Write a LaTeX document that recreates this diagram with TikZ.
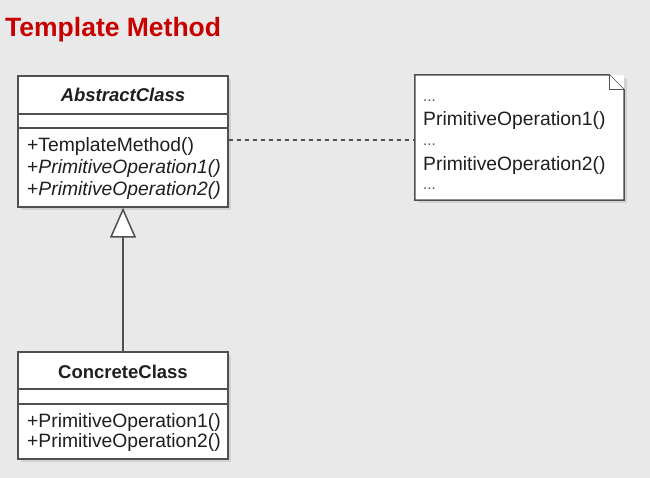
\documentclass[tikz,border=0pt]{standalone}
\usepackage{fontspec}
\setmainfont{Liberation Sans}
\usetikzlibrary{arrows.meta,calc}
\definecolor{bg}{HTML}{E9E9E9}
\definecolor{edge}{HTML}{505050}
\definecolor{titlered}{HTML}{C80000}
\definecolor{shadow}{HTML}{D2D2D2}
\tikzset{
  x=1pt, y=-1pt,
  classbox/.style={rectangle, draw=edge, line width=1.5pt, fill=white, inner sep=0pt},
  shadowbox/.style={rectangle, fill=shadow, draw=none, inner sep=0pt},
  txt/.style={anchor=base west, inner sep=0pt, font=\fontsize{19.3}{22}\selectfont, text=black!88},
  dots/.style={anchor=base west, inner sep=0pt, font=\fontsize{15}{18}\selectfont, text=black!70},
  cname/.style={anchor=base, inner sep=0pt, font=\fontsize{18.5}{22}\selectfont\bfseries, text=black!88},
  sep/.style={draw=edge, line width=1.5pt},
  inh/.style={draw=edge, line width=1.5pt, -{Triangle[open, width=26pt, length=30pt, fill=white]}},
  assoc/.style={draw=edge, line width=1.8pt, dash pattern=on 4pt off 4pt}
}
\begin{document}
\begin{tikzpicture}
\fill[bg] (0,0) rectangle (650,478);
\useasboundingbox (0,0) rectangle (650,478);

% title
\node[anchor=base west, inner sep=0pt, text=titlered, font=\fontsize{26.5}{30}\selectfont\bfseries] (title) at (5,37) {Template Method};

% AbstractClass
\node[shadowbox, minimum width=210pt, minimum height=131pt] (absshadow) at (126,144.5) {};
\node[classbox, minimum width=210pt, minimum height=131pt] (abs) at (123,141.5) {};
\draw[sep] (abs.west |- 0,114) -- (abs.east |- 0,114);
\draw[sep] (abs.west |- 0,128) -- (abs.east |- 0,128);
\node[cname, font=\fontsize{18.5}{22}\selectfont\bfseries\itshape] (absname) at (123,102) {AbstractClass};
\node[txt] (absop0) at (27,152) {+TemplateMethod()};
\node[txt] (absop1) at (27,174) {+\textit{PrimitiveOperation1()}};
\node[txt] (absop2) at (27,196) {+\textit{PrimitiveOperation2()}};

% ConcreteClass
\node[shadowbox, minimum width=210pt, minimum height=107pt] (concshadow) at (126,408.5) {};
\node[classbox, minimum width=210pt, minimum height=107pt] (conc) at (123,405.5) {};
\draw[sep] (conc.west |- 0,389) -- (conc.east |- 0,389);
\draw[sep] (conc.west |- 0,404) -- (conc.east |- 0,404);
\node[cname] (concname) at (123,378) {ConcreteClass};
\node[txt] (concop1) at (27,427) {+PrimitiveOperation1()};
\node[txt] (concop2) at (27,447) {+PrimitiveOperation2()};

% Note
\node[shadowbox, minimum width=209pt, minimum height=125pt] (noteshadow) at (522.5,140.5) {};
\node[rectangle, draw=none, fill=white, minimum width=209pt, minimum height=125pt, inner sep=0pt] (note) at (519.5,137.5) {};
\draw[draw=edge, line width=1.5pt, line join=miter]
  (note.north west) -- ($(note.north east)+(-15,0)$) -- ($(note.north east)+(0,15)$) -- (note.south east) -- (note.south west) -- cycle;
\draw[draw=edge, line width=1.2pt, fill=white]
  ($(note.north east)+(-15,0)$) -- ($(note.north east)+(-15,15)$) -- ($(note.north east)+(0,15)$);
\node[dots] (nd1) at (423,102) {...};
\node[txt] (np1) at (423,126) {PrimitiveOperation1()};
\node[dots] (nd2) at (423,146) {...};
\node[txt] (np2) at (423,171) {PrimitiveOperation2()};
\node[dots] (nd3) at (423,190) {...};

% connectors
\draw[assoc] (abs.east |- 0,140) -- (note.west |- 0,140);
\draw[inh] (conc.north) -- (abs.south);
\end{tikzpicture}
\end{document}
